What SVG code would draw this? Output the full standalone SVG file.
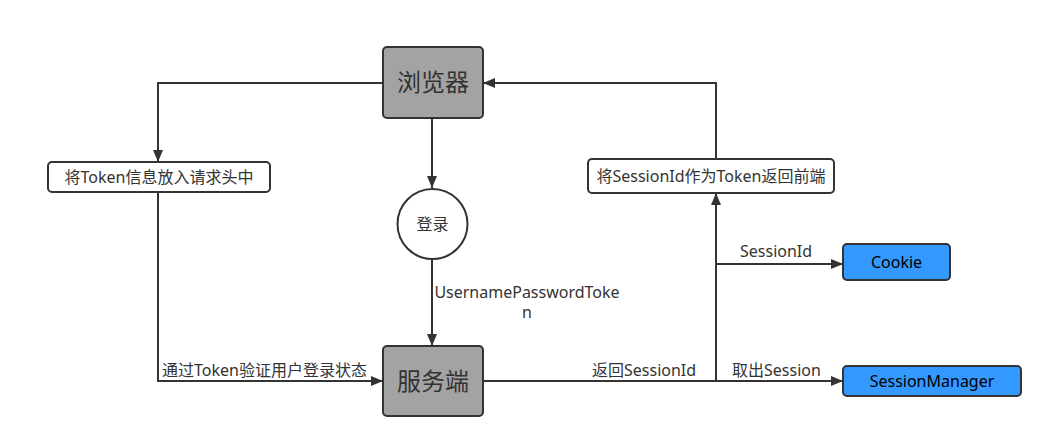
<svg xmlns="http://www.w3.org/2000/svg" width="1053" height="448" viewBox="0 0 1053 448">
<style>
text{font-family:"Noto Sans","Noto Sans CJK SC",sans-serif;fill:#333;font-size:16px}
.big{font-size:24px}
.gray{fill:#a3a3a3;stroke:#333;stroke-width:2}
.white{fill:#fff;stroke:#333;stroke-width:2}
.blue{fill:#3399ff;stroke:#333;stroke-width:2}
.blue-t{fill:#000}
.c{fill:none;stroke:#333;stroke-width:2}
</style>
<defs>
<marker id="ar" markerUnits="userSpaceOnUse" markerWidth="12" markerHeight="10" refX="12" refY="5" orient="auto">
<path d="M0,0 L12,5 L0,10 Z" fill="#333"/>
</marker>
</defs>
<rect width="1053" height="448" fill="#fff"/>
<g id="connectors">
<path class="c" d="M432,118 V188" marker-end="url(#ar)"/>
<path class="c" d="M432,260 V346" marker-end="url(#ar)"/>
<path class="c" d="M383,83 H158 V162" marker-end="url(#ar)"/>
<path class="c" d="M158,192 V381 H383" marker-end="url(#ar)"/>
<path class="c" d="M483,381 H843" marker-end="url(#ar)"/>
<path class="c" d="M716,381 V193" marker-end="url(#ar)"/>
<path class="c" d="M716,159 V83 H483" marker-end="url(#ar)"/>
<path class="c" d="M716,264 H843" marker-end="url(#ar)"/>
<text x="527" y="298" text-anchor="middle">UsernamePasswordToke</text>
<text x="527" y="318" text-anchor="middle">n</text>
<text x="162" y="376">通过Token验证用户登录状态</text>
<text x="592" y="376">返回SessionId</text>
<text x="732" y="376">取出Session</text>
<text x="740" y="257">SessionId</text>
</g>
<g id="browser">
<rect class="gray" x="383" y="47" width="100" height="71" rx="4"/>
<text class="big" x="433" y="91" text-anchor="middle">浏览器</text>
</g>
<g id="login">
<circle class="white" cx="432.5" cy="224" r="35"/>
<text x="432.5" y="230" text-anchor="middle">登录</text>
</g>
<g id="server">
<rect class="gray" x="383" y="346" width="100" height="70" rx="4"/>
<text class="big" x="433" y="390" text-anchor="middle">服务端</text>
</g>
<g id="token-header">
<rect class="white" x="48" y="162" width="222" height="30" rx="4"/>
<text x="159" y="183" text-anchor="middle">将Token信息放入请求头中</text>
</g>
<g id="return-token">
<rect class="white" x="588" y="159" width="246" height="34" rx="4"/>
<text x="711" y="182" text-anchor="middle">将SessionId作为Token返回前端</text>
</g>
<g id="cookie">
<rect class="blue" x="843" y="244" width="107" height="36" rx="4"/>
<text class="blue-t" x="896.5" y="268" text-anchor="middle">Cookie</text>
</g>
<g id="session-manager">
<rect class="blue" x="843" y="366" width="178" height="30" rx="4"/>
<text class="blue-t" x="932" y="387" text-anchor="middle">SessionManager</text>
</g>
</svg>
